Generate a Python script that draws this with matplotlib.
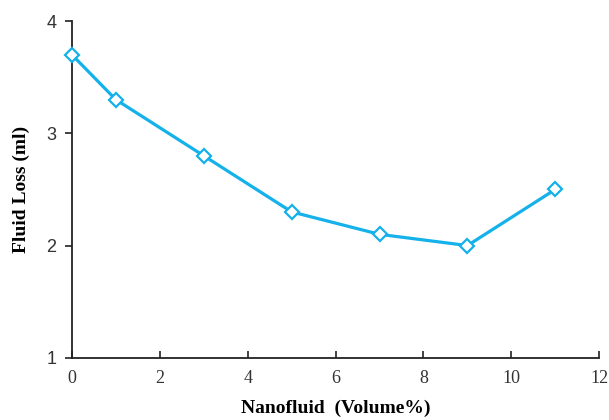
import matplotlib
matplotlib.use("Agg")
import matplotlib.pyplot as plt

# data
volume = [0, 1, 3, 5, 7, 9, 11]
fluid_loss = [3.7, 3.3, 2.8, 2.3, 2.1, 2.0, 2.5]
x_ticks = [0, 2, 4, 6, 8, 10, 12]
y_ticks = [1, 2, 3, 4]

fig = plt.figure(figsize=(6.09, 4.20), dpi=100)
ax = fig.add_axes([0.118, 0.148, 0.866, 0.802])

ax.plot(volume, fluid_loss, color='#14b1ea', linewidth=2.3, marker='D',
        markersize=7, markerfacecolor='white', markeredgecolor='#14b1ea',
        markeredgewidth=1.6, clip_on=False, zorder=3)

ax.set_xlim(0, 12)
ax.set_ylim(1, 4)
ax.set_xticks(x_ticks)
ax.set_yticks(y_ticks)

for side in ['top', 'right']:
    ax.spines[side].set_visible(False)
for side in ['left', 'bottom']:
    ax.spines[side].set_color('#222222')
    ax.spines[side].set_linewidth(1.3)

ax.tick_params(axis='x', direction='in', length=5, width=1.2, pad=9, color='#222222')
ax.tick_params(axis='y', direction='out', length=5, width=1.2, pad=6, color='#222222')

for lab in ax.get_xticklabels():
    lab.set_fontfamily('Liberation Serif')
    lab.set_fontsize(13)
    lab.set_color('#333333')
for lab in ax.get_yticklabels():
    lab.set_fontfamily('Liberation Sans')
    lab.set_fontsize(13)
    lab.set_color('#333333')

ax.set_xlabel('Nanofluid  (Volume%)', fontfamily='Liberation Serif', fontweight='bold',
              fontsize=14, labelpad=9)
ax.set_ylabel('Fluid Loss (ml)', fontfamily='Liberation Serif', fontweight='bold',
              fontsize=14, labelpad=12)

fig.savefig('out.png', dpi=100)
